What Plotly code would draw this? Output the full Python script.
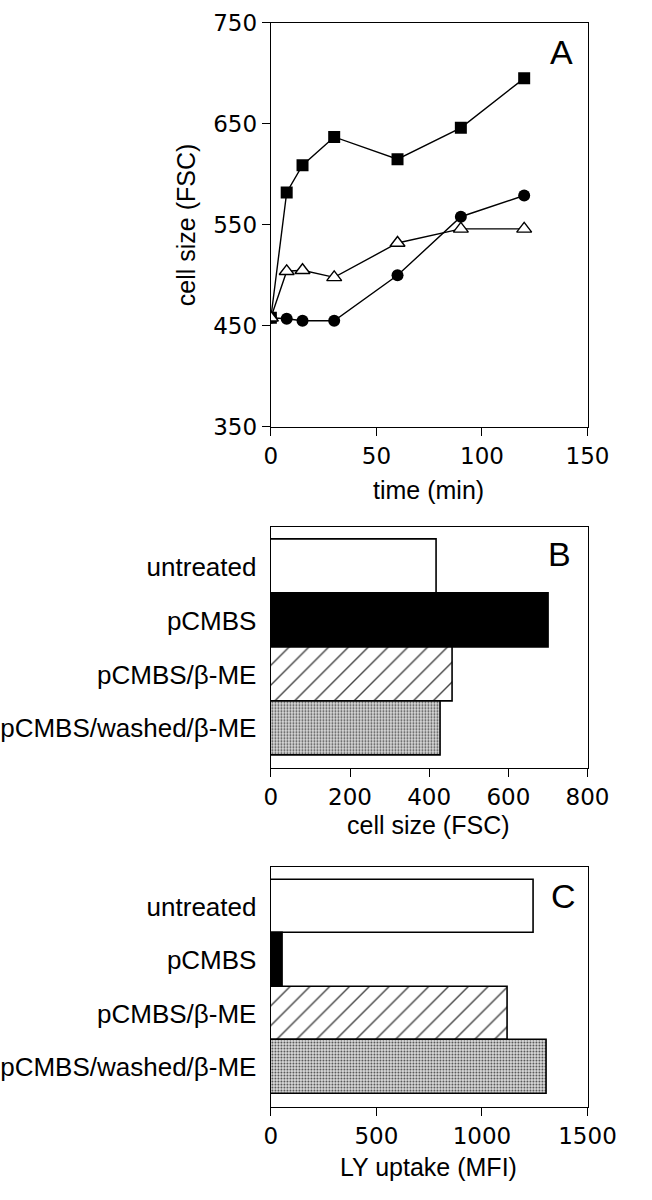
import plotly.graph_objects as go

# ---- data ----
time_min = [0, 7.5, 15, 30, 60, 90, 120]
fsc_square = [458, 582, 609, 637, 615, 646, 695]
fsc_circle = [458, 457, 455, 455, 500, 558, 579]
fsc_triangle = [458, 504, 505, 498, 532, 546, 546]

categories = ["untreated", "pCMBS", "pCMBS/β-ME", "pCMBS/washed/β-ME"]
cell_size = [420, 702, 460, 430]
ly_uptake = [1245, 56, 1124, 1307]

W, H = 652, 1200
FONT = "Liberation Sans, Arial, Helvetica, sans-serif"
NUMFONT = "DejaVu Sans, Liberation Sans, sans-serif"

def px_x(v):
    return v / W

def px_y(v):
    return 1 - v / H

xdom = [px_x(275), px_x(614)]
dom_a = [px_y(423), px_y(10)]
dom_b = [px_y(772), px_y(525)]
dom_c = [px_y(1118), px_y(873)]

fig = go.Figure()

line_style = dict(color="black", width=1.4)
fig.add_trace(go.Scatter(x=time_min, y=fsc_square, mode="lines+markers",
                         line=line_style,
                         marker=dict(symbol="square", size=12, color="black"),
                         xaxis="x", yaxis="y", showlegend=False))
fig.add_trace(go.Scatter(x=time_min, y=fsc_circle, mode="lines+markers",
                         line=line_style,
                         marker=dict(symbol="circle", size=12, color="black"),
                         xaxis="x", yaxis="y", showlegend=False))
fig.add_trace(go.Scatter(x=time_min, y=fsc_triangle, mode="lines+markers",
                         line=line_style,
                         marker=dict(symbol="triangle-up", size=13, color="white",
                                     line=dict(color="black", width=1.4)),
                         xaxis="x", yaxis="y", showlegend=False))

fills = ["white", "black", "white", "#dcdcdc"]
shapes = ["", "", "/", "."]
pfg = ["black", "black", "black", "#bdbdbd"]
psize = [8, 8, 14, 3]
psol = [0.2, 0.2, 0.1, 0.3]

for vals, xa, ya in [(cell_size, "x2", "y2"), (ly_uptake, "x3", "y3")]:
    fig.add_trace(go.Bar(
        x=vals, y=categories, orientation="h", width=1.0,
        marker=dict(color=fills, line=dict(color="black", width=1.6),
                    pattern=dict(shape=shapes, fgcolor=pfg, bgcolor=fills, fgopacity=1,
                                 size=psize, solidity=psol, fillmode="overlay")),
        xaxis=xa, yaxis=ya, showlegend=False))

numfont = dict(family=NUMFONT, size=23, color="black")
catfont = dict(family=FONT, size=26, color="black")
axis_common = dict(showline=True, linecolor="black", linewidth=1.4, mirror=True,
                   showgrid=False, zeroline=False, ticklabeloverflow="allow")
tick_common = dict(ticks="outside", ticklen=8, tickwidth=1.4, tickcolor="black", tickfont=numfont)

fig.update_layout(
    width=W, height=H,
    margin=dict(l=0, r=0, t=0, b=0),
    paper_bgcolor="white", plot_bgcolor="white",
    font=dict(family=FONT, size=24, color="black"),
    bargap=0,
    xaxis=dict(domain=xdom, anchor="y", range=[0, 150], tickvals=[0, 50, 100, 150],
               **tick_common, **axis_common),
    yaxis=dict(domain=dom_a, anchor="x", range=[350, 750], tickvals=[350, 450, 550, 650, 750],
               **tick_common, **axis_common),
    xaxis2=dict(domain=xdom, anchor="y2", range=[0, 800], tickvals=[0, 200, 400, 600, 800],
                **tick_common, **axis_common),
    yaxis2=dict(domain=dom_b, anchor="x2", range=[3.74, -0.74], type="category",
                ticks="", ticklabelstandoff=8, tickfont=catfont, **axis_common),
    xaxis3=dict(domain=xdom, anchor="y3", range=[0, 1500], tickvals=[0, 500, 1000, 1500],
                **tick_common, **axis_common),
    yaxis3=dict(domain=dom_c, anchor="x3", range=[3.74, -0.74], type="category",
                ticks="", ticklabelstandoff=8, tickfont=catfont, **axis_common),
)

def ann(text, x, y, size=25, angle=0):
    fig.add_annotation(text=text, x=px_x(x), y=px_y(y), xref="paper", yref="paper",
                       showarrow=False, textangle=angle,
                       font=dict(family=FONT, size=size, color="black"),
                       xanchor="center", yanchor="middle")

ann("cell size (FSC)", 184, 216, angle=-90)
ann("time (min)", 444, 488)
ann("cell size (FSC)", 444, 830)
ann("LY uptake (MFI)", 444, 1180)
ann("A", 586, 40, size=34)
ann("B", 584, 553, size=34)
ann("C", 588, 903, size=34)

fig.write_html("out.html", config={"displayModeBar": False},
               post_script="document.body.style.margin='0px';")
